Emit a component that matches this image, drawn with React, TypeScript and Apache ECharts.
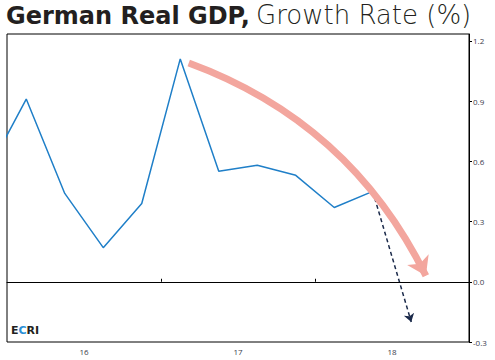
import React, { useEffect, useRef } from "react";
import * as echarts from "echarts";

const quarters = ["2015Q4", "2016Q1", "2016Q2", "2016Q3", "2016Q4", "2017Q1", "2017Q2", "2017Q3", "2017Q4", "2018Q1", "2018Q2"];
const growth = [0.55, 0.91, 0.44, 0.17, 0.39, 1.11, 0.55, 0.58, 0.53, 0.37, 0.45];
const forecastQuarters = ["2018Q2", "2018Q3"];
const forecastValues = [0.45, -0.2];
const trendArrow = [[2017.18, 1.09], [2018.72, 0.03]];
const yearLabels = [2016.5, 2017.5, 2018.5];
const yearTicks = [2017, 2018];
const yTicks = [-0.3, 0, 0.3, 0.6, 0.9, 1.2];
const titleBold = "German Real GDP,";
const titleLight = "Growth Rate (%)";

const qx = (q: string) => {
  const y = parseInt(q.slice(0, 4), 10);
  const n = parseInt(q.slice(5), 10);
  return y + (n - 0.5) / 4;
};

export default function App() {
  const ref = useRef<HTMLDivElement>(null);
  useEffect(() => {
    document.body.style.margin = "0";
    if (!ref.current) return;
    const chart = echarts.init(ref.current, null, { renderer: "svg" });
    const axisText = { color: "#3a3d4d", fontSize: 8, fontFamily: "Open Sans" };
    chart.setOption({
      animation: false,
      grid: { left: 7, right: 26, top: 34, bottom: 18, show: true, borderColor: "#000", borderWidth: 1, backgroundColor: "#fff" },
      xAxis: {
        type: "value",
        min: 2016,
        max: 2019,
        axisLine: { show: true, lineStyle: { color: "#000", width: 1 } },
        axisTick: { show: true, inside: true, length: 3, customValues: yearTicks, lineStyle: { color: "#000" } },
        axisLabel: {
          ...axisText,
          margin: 5,
          customValues: yearLabels,
          formatter: (v: number) => String(Math.floor(v)).slice(2),
        },
        splitLine: { show: false },
      },
      yAxis: {
        type: "value",
        position: "right",
        min: -0.3,
        max: 1.234,
        axisLine: { show: true, lineStyle: { color: "#000", width: 1 } },
        axisTick: { show: true, length: 3, customValues: yTicks, lineStyle: { color: "#000" } },
        axisLabel: {
          ...axisText,
          margin: 4,
          customValues: yTicks,
          formatter: (v: number) => v.toFixed(1),
        },
        splitLine: { show: false },
      },
      graphic: [
        {
          type: "text",
          x: 6,
          y: 4,
          style: {
            text: titleBold,
            font: "bold 24px 'DejaVu Sans'",
            fill: "#231f20",
          },
        },
        {
          type: "text",
          x: 256,
          y: 2,
          style: {
            text: titleLight,
            font: "200 26px 'DejaVu Sans'",
            fill: "#231f20",
          },
        },
        {
          type: "text",
          left: 11,
          top: 325,
          style: {
            text: "{d|E}{c|C}{d|RI}",
            rich: {
              d: { fontFamily: "DejaVu Sans", fontWeight: "bold", fontSize: 11, fill: "#231f20" },
              c: { fontFamily: "DejaVu Sans", fontWeight: "bold", fontSize: 11, fill: "#2a8fd6" },
            },
          },
        },
      ],
      series: [
        {
          type: "line",
          data: quarters.map((q, i) => [qx(q), growth[i]]),
          showSymbol: false,
          lineStyle: { color: "#1f7fc8", width: 1.5 },
          clip: true,
          z: 3,
          markLine: {
            silent: true,
            symbol: ["none", "none"],
            label: { show: false },
            lineStyle: { color: "#000", width: 1, type: "solid" },
            data: [{ yAxis: 0 }],
          },
        },
        {
          type: "lines",
          coordinateSystem: "cartesian2d",
          z: 4,
          symbol: ["none", "arrow"],
          symbolSize: 8,
          lineStyle: { color: "#1b2a4a", width: 1.5, type: [4, 3], opacity: 1 },
          data: [{ coords: forecastQuarters.map((q, i) => [qx(q), forecastValues[i]]) }],
        },
        {
          type: "lines",
          coordinateSystem: "cartesian2d",
          z: 5,
          symbol: ["none", "arrow"],
          symbolSize: 18,
          lineStyle: { color: "#f3a69e", width: 7, curveness: 0.2, opacity: 1 },
          data: [{ coords: trendArrow }],
        },
      ],
    });
    return () => chart.dispose();
  }, []);
  return <div ref={ref} style={{ width: 495, height: 360 }} />;
}
